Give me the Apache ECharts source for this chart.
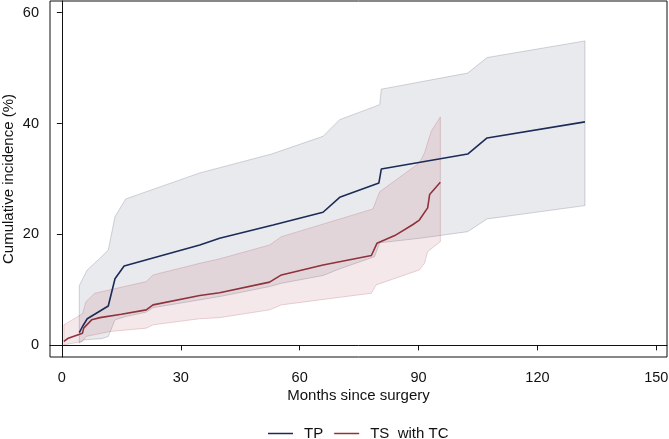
<!DOCTYPE html>
<html>
<head>
<meta charset="utf-8">
<script src="https://cdn.jsdelivr.net/npm/echarts@6/dist/echarts.min.js"></script>
<style>
  html, body { margin: 0; padding: 0; background: #fff; }
  #chart { width: 669px; height: 439px; }
</style>
</head>
<body>
<div id="chart"></div>
<script>
var x_ticks = [0, 30, 60, 90, 120, 150];
var y_ticks = [0, 20, 40, 60];

// TP: cumulative incidence and 95% CI, [months, %]
var tp_cif = [[4.4,2.3],[5.2,3.4],[6.4,4.8],[11.7,7.1],[13.4,12.0],[15.7,14.3],[34.8,18.1],[39.8,19.3],[53.3,21.7],[65.9,24.0],[70.1,26.7],[80.0,29.3],[80.6,31.8],[102.4,34.5],[107.3,37.4],[132,40.3]];
var tp_upper = [[4.4,10.8],[6.4,13.6],[9.6,15.7],[11.7,17.2],[13.4,23.2],[16.1,26.4],[34.8,31.1],[52.9,34.5],[65.9,37.7],[70.1,40.7],[80.2,43.4],[80.6,46.2],[102.4,49.1],[107.3,51.9],[132,54.9]];
var tp_lower = [[4.4,0.4],[5.4,1.0],[10.0,1.2],[11.7,1.6],[13.4,4.6],[16.1,5.2],[21.3,6.0],[23.0,6.8],[39.8,8.8],[52.4,10.6],[55.4,11.2],[65.9,12.6],[70.1,13.8],[78.9,16.0],[80.2,18.5],[90.2,19.3],[102.4,20.5],[107.3,22.8],[132,25.2]];

// TS with TC
var ts_cif = [[0.5,0.7],[1.6,1.3],[5.2,2.2],[5.5,3.1],[7.5,4.6],[9.6,5.0],[15.0,5.6],[21.3,6.4],[23.0,7.3],[34.8,9.0],[39.8,9.5],[52.4,11.4],[55.4,12.7],[65.9,14.5],[78.1,16.2],[79.5,18.4],[84.0,19.8],[88.6,21.8],[90.2,22.6],[92.3,24.8],[92.8,27.2],[95.5,29.4]];
var ts_upper = [[0.5,3.7],[5.2,5.7],[6.1,7.9],[8.3,9.4],[21.3,11.5],[23.0,12.7],[34.8,14.8],[39.8,15.6],[52.4,18.1],[55.4,19.6],[78.5,24.6],[79.7,26.8],[80.2,27.7],[90.2,32.9],[91.5,34.7],[93.2,38.6],[95.5,41.2]];
var ts_lower = [[0.5,0.1],[5.2,0.7],[6.1,1.6],[12.1,2.5],[21.3,3.1],[23.0,3.7],[34.8,4.8],[39.8,5.0],[52.4,6.4],[55.4,7.3],[78.1,9.4],[79.3,10.9],[90.2,13.6],[91.5,14.8],[92.3,16.9],[95.5,18.7]];

var font = 'Liberation Sans, Arial, sans-serif';

function band(name, upper, lower, fill, stroke) {
	return {
		name: name,
		type: 'custom',
		silent: true,
		z: 1,
		data: [[0, 0]],
		renderItem: function (params, api) {
			var pts = [];
			upper.forEach(function (p) { pts.push(api.coord(p)); });
			lower.slice().reverse().forEach(function (p) { pts.push(api.coord(p)); });
			return {
				type: 'polygon',
				shape: { points: pts },
				style: { fill: fill, stroke: stroke, lineWidth: 1 }
			};
		}
	};
}

var chart = echarts.init(document.getElementById('chart'));
var options = {
	animation: false,
	grid: {
		left: 50,
		right: 2,
		top: 1,
		bottom: 82,
		outerBoundsMode: 'none',
		containLabel: false,
		show: true,
		borderColor: '#111',
		borderWidth: 1
	},
	legend: {
		top: 421,
		left: 263,
		data: ['TP', 'TS  with TC'],
		icon: 'rect',
		itemWidth: 25,
		itemHeight: 1.5,
		itemGap: 11,
		textStyle: { fontFamily: font, fontSize: 15, color: '#111', padding: [0, 0, 0, 6] }
	},
	xAxis: {
		type: 'value',
		min: -3,
		max: 152.7,
		name: 'Months since surgery',
		nameLocation: 'middle',
		nameGap: 31,
		nameMoveOverlap: false,
		nameTextStyle: { fontFamily: font, fontSize: 15, color: '#111' },
		axisLine: { lineStyle: { color: '#111', width: 1 } },
		axisTick: { customValues: x_ticks, length: 5, lineStyle: { color: '#111' } },
		axisLabel: { customValues: x_ticks, margin: 13, fontFamily: font, fontSize: 14.5, color: '#111' },
		splitLine: { show: false }
	},
	yAxis: {
		type: 'value',
		min: -2.1,
		max: 62.1,
		name: 'Cumulative incidence (%)',
		nameLocation: 'middle',
		nameGap: 34,
		nameMoveOverlap: false,
		nameTextStyle: { fontFamily: font, fontSize: 15, color: '#111' },
		axisLine: { lineStyle: { color: '#111', width: 1 } },
		axisTick: { customValues: y_ticks, length: 5, lineStyle: { color: '#111' } },
		axisLabel: { customValues: y_ticks, margin: 11, fontFamily: font, fontSize: 14.5, color: '#111' },
		splitLine: { show: false }
	},
	series: [
		band('TP CI', tp_upper, tp_lower, 'rgba(40,50,80,0.1)', 'rgba(40,50,80,0.2)'),
		band('TS CI', ts_upper, ts_lower, 'rgba(160,50,60,0.11)', 'rgba(160,50,60,0.2)'),
		{
			name: 'TP',
			type: 'line',
			z: 3,
			showSymbol: false,
			color: '#1d2b57',
			lineStyle: { width: 1.6, color: '#1d2b57' },
			data: tp_cif
		},
		{
			name: 'TS  with TC',
			type: 'line',
			z: 3,
			showSymbol: false,
			color: '#90323c',
			lineStyle: { width: 1.6, color: '#90323c' },
			data: ts_cif
		}
	]
};
chart.setOption(options, true);
</script>
</body>
</html>
